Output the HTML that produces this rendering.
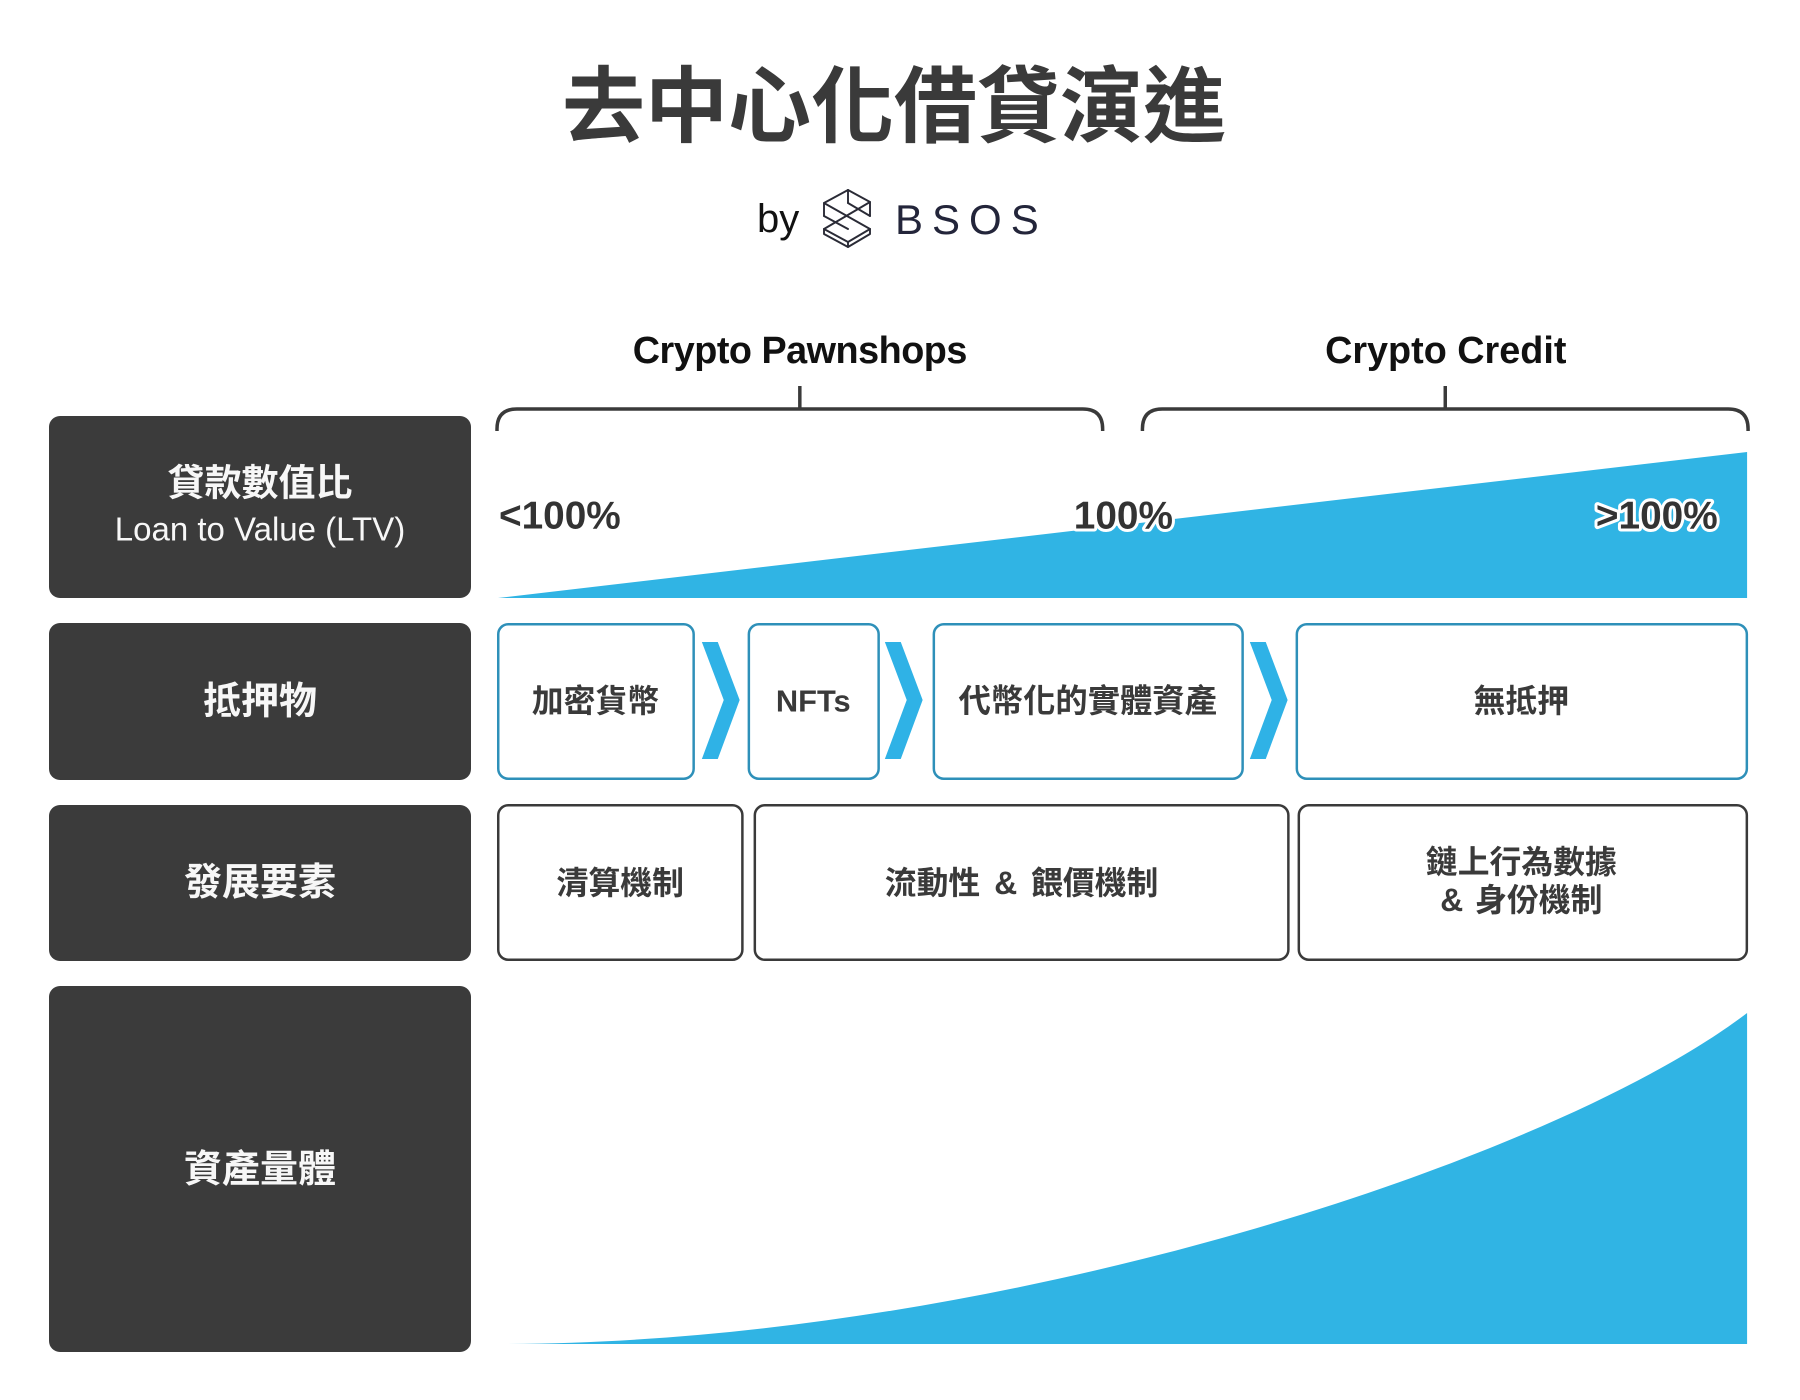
<!DOCTYPE html>
<html>
<head>
<meta charset="utf-8">
<style>
  html, body { margin:0; padding:0; background:#ffffff; }
  body { width:1800px; height:1400px; overflow:hidden; }
  svg { display:block; }
  .cjk { font-family:"Liberation Sans","Noto Sans CJK TC","Noto Sans CJK SC",sans-serif; }
  .lat { font-family:"Liberation Sans",sans-serif; }
</style>
</head>
<body>
<svg width="1800" height="1400" viewBox="0 0 1800 1400" xmlns="http://www.w3.org/2000/svg">
  <rect x="0" y="0" width="1800" height="1400" fill="#ffffff"/>

  <!-- Title -->
  <text class="cjk" x="894" y="107" font-size="83" font-weight="700" fill="#3a3a3a" text-anchor="middle" dominant-baseline="central">去中心化借貸演進</text>

  <!-- by BSOS -->
  <text class="lat" x="757" y="232" font-size="40" fill="#111111">by</text>
  <g transform="translate(816,184)" fill="none" stroke="#2a2b36" stroke-width="1.9" stroke-linejoin="round" stroke-linecap="round">
    <path d="M32,6 L54,18 L54,32"/>
    <path d="M32,6 L8,19 L8,32"/>
    <path d="M32,6 L32,19"/>
    <path d="M8,19 L54,45"/>
    <path d="M54,18 L8,45"/>
    <path d="M32,19 L54,32"/>
    <path d="M8,32 L32,45"/>
    <path d="M8,45 L8,50 L32,63 L54,50 L54,45"/>
    <path d="M8,45 L32,58 L54,45"/>
    <path d="M32,58 L32,63"/>
  </g>
  <text class="lat" x="895" y="234" font-size="42" fill="#23253a" letter-spacing="9">BSOS</text>

  <!-- Right-side content (slightly compressed horizontally around x=497) -->
  <g transform="matrix(0.9945,0,0,1,2.733,0)">
    <!-- Phase headings -->
    <text class="lat" x="801.5" y="363" font-size="38" font-weight="700" fill="#111111" text-anchor="middle" letter-spacing="-0.5">Crypto Pawnshops</text>
    <text class="lat" x="1451" y="363" font-size="38" font-weight="700" fill="#111111" text-anchor="middle">Crypto Credit</text>

    <!-- Brackets -->
    <g fill="none" stroke="#3a3a3a" stroke-width="3.5">
      <path d="M497,431 L497,429 Q497,409 517,409 L1086,409 Q1106,409 1106,429 L1106,431"/>
      <path d="M801.5,386 L801.5,409"/>
      <path d="M1146,431 L1146,429 Q1146,409 1166,409 L1735,409 Q1755,409 1755,429 L1755,431"/>
      <path d="M1450.5,386 L1450.5,409"/>
    </g>

    <!-- LTV triangle -->
    <polygon points="498,598 1754,452 1754,598" fill="#30b4e4"/>
    <g class="lat" font-size="39" font-weight="700" fill="#333333" dominant-baseline="central">
      <text x="499" y="516">&lt;100%</text>
      <text x="1077" y="516" stroke="#ffffff" stroke-width="6" paint-order="stroke" stroke-linejoin="round">100%</text>
      <text x="1602" y="516" stroke="#ffffff" stroke-width="6" paint-order="stroke" stroke-linejoin="round">&gt;100%</text>
    </g>

    <!-- Collateral row -->
    <g fill="#ffffff" stroke="#2e90b9" stroke-width="2.5">
      <rect x="498.25" y="624.25" width="196.5" height="154.5" rx="10"/>
      <rect x="750.25" y="624.25" width="130.5" height="154.5" rx="10"/>
      <rect x="936.25" y="624.25" width="310.5" height="154.5" rx="10"/>
      <rect x="1301.25" y="624.25" width="452.5" height="154.5" rx="10"/>
    </g>
    <g fill="#2fb2e6">
      <polygon points="703,642 719,642 741,700 719,759 703,759 725,700"/>
      <polygon points="887,642 903,642 925,700 903,759 887,759 909,700"/>
      <polygon points="1254,642 1270,642 1292,700 1270,759 1254,759 1276,700"/>
    </g>
    <g fill="#3a3a3a" text-anchor="middle" dominant-baseline="central" font-weight="700">
      <text class="cjk" x="596" y="701" font-size="32">加密貨幣</text>
      <text class="lat" x="815" y="701" font-size="31">NFTs</text>
      <text class="cjk" x="1091" y="701" font-size="32.5">代幣化的實體資產</text>
      <text class="cjk" x="1527" y="701" font-size="32">無抵押</text>
    </g>

    <!-- Development factors row -->
    <g fill="#ffffff" stroke="#3a3a3a" stroke-width="2.5">
      <rect x="498.25" y="805.25" width="245.5" height="154.5" rx="10"/>
      <rect x="756.25" y="805.25" width="536.5" height="154.5" rx="10"/>
      <rect x="1303.25" y="805.25" width="450.5" height="154.5" rx="10"/>
    </g>
    <g class="cjk" fill="#3a3a3a" text-anchor="middle" dominant-baseline="central" font-weight="700" font-size="32">
      <text x="621" y="883">清算機制</text>
      <text x="1024.5" y="883">流動性<tspan dx="14">&amp;</tspan><tspan dx="14">餵價機制</tspan></text>
      <text x="1527" y="862">鏈上行為數據</text>
      <text x="1527" y="900">&amp;<tspan dx="12">身份機制</tspan></text>
    </g>

    <!-- Asset volume curve -->
    <path fill="#30b4e4" d="M499,1344 C1000,1344 1560,1160 1754,1013 L1754,1344 Z"/>
  </g>

  <!-- Left dark boxes -->
  <g fill="#3b3b3b">
    <rect x="49" y="416" width="422" height="182" rx="11"/>
    <rect x="49" y="623" width="422" height="157" rx="11"/>
    <rect x="49" y="805" width="422" height="156" rx="11"/>
    <rect x="49" y="986" width="422" height="366" rx="11"/>
  </g>
  <g fill="#f7f7f7" text-anchor="middle" dominant-baseline="central">
    <text class="cjk" x="260" y="483" font-size="37" font-weight="700">貸款數值比</text>
    <text class="lat" x="260" y="529" font-size="33">Loan to Value (LTV)</text>
    <text class="cjk" x="260" y="702" font-size="38" font-weight="700">抵押物</text>
    <text class="cjk" x="260" y="883" font-size="38" font-weight="700">發展要素</text>
    <text class="cjk" x="260" y="1170" font-size="38" font-weight="700">資產量體</text>
  </g>
</svg>
</body>
</html>
